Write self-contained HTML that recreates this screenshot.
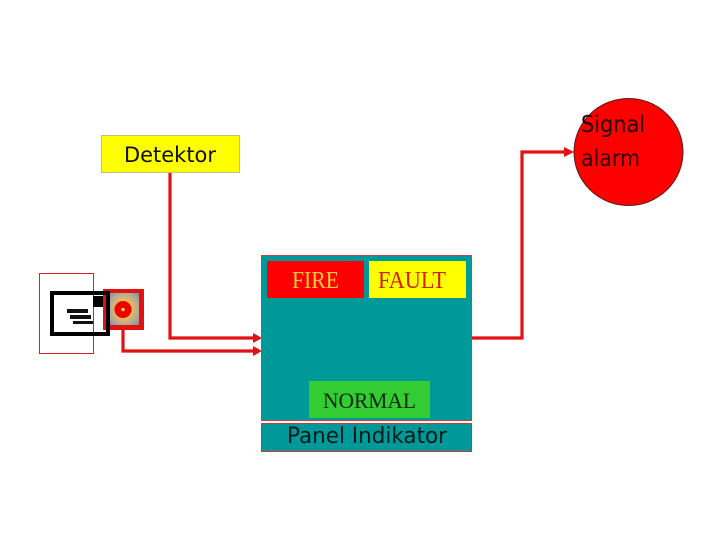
<!DOCTYPE html>
<html>
<head>
<meta charset="utf-8">
<style>
html,body{margin:0;padding:0;background:#fff;width:720px;height:540px;overflow:hidden}
svg{display:block}
.s{font-family:"DejaVu Sans","Liberation Sans",sans-serif}
.t{font-family:"Liberation Serif",serif}
</style>
</head>
<body>
<svg width="720" height="540" viewBox="0 0 720 540" xmlns="http://www.w3.org/2000/svg">
<rect x="0" y="0" width="720" height="540" fill="#fff"/>

<!-- Signal alarm -->
<ellipse cx="628.500" cy="152" rx="54.500" ry="53.500" fill="#ff0000" stroke="#5a1a1a" stroke-width="1"/>
<text class="s" x="581" y="132" font-size="23.500" fill="#200000" textLength="64" lengthAdjust="spacingAndGlyphs">Signal</text>
<text class="s" x="581" y="166" font-size="23.500" fill="#300000" textLength="59" lengthAdjust="spacingAndGlyphs">alarm</text>

<!-- Detektor -->
<rect x="101.500" y="135.500" width="138" height="37" fill="#ffff00" stroke="#c4bd84" stroke-width="1"/>
<text class="s" x="124" y="162" font-size="21" fill="#101010" textLength="92" lengthAdjust="spacingAndGlyphs">Detektor</text>

<!-- Connectors -->
<g fill="none" stroke="#e31212" stroke-width="3.200">
<polyline points="170,173 170,338 254,338"/>
<polyline points="123,329 123,351 254,351"/>
<polyline points="472,338 522,338 522,152 566,152"/>
</g>
<g fill="#e31212">
<polygon points="253,333 262,338 253,343"/>
<polygon points="253,346 262,351 253,356"/>
<polygon points="564,147 574,152 564,157"/>
</g>

<!-- Panel -->
<rect x="261.500" y="255.500" width="210" height="165" fill="#009999" stroke="#d04040" stroke-width="1"/>
<rect x="261.500" y="423.500" width="210" height="28" fill="#009999" stroke="#d83434" stroke-width="1"/>
<rect x="267" y="261" width="97" height="37" fill="#ff0000"/>
<rect x="369" y="261" width="97" height="37" fill="#ffff00"/>
<rect x="309" y="381" width="121" height="37" fill="#33cc33"/>
<text class="t" x="292" y="288" font-size="24" fill="#ffcc33" textLength="47" lengthAdjust="spacingAndGlyphs">FIRE</text>
<text class="t" x="378" y="288" font-size="24" fill="#cc2200" textLength="68" lengthAdjust="spacingAndGlyphs">FAULT</text>
<text class="t" x="323" y="408" font-size="22" fill="#0a2a0a" textLength="93" lengthAdjust="spacingAndGlyphs">NORMAL</text>
<text class="s" x="287" y="443" font-size="22" fill="#021a1a" textLength="160" lengthAdjust="spacingAndGlyphs">Panel Indikator</text>

<!-- Detector icon -->
<defs>
<radialGradient id="g" cx="50%" cy="50%" r="65%">
<stop offset="0" stop-color="#ffcc44"/>
<stop offset="0.45" stop-color="#e8b860"/>
<stop offset="0.8" stop-color="#a8a8a0"/>
<stop offset="1" stop-color="#909090"/>
</radialGradient>
</defs>
<rect x="39.500" y="273.500" width="54" height="80" fill="none" stroke="#e02020" stroke-width="1"/>
<rect x="103" y="289" width="41" height="41" fill="#e31212"/>
<rect x="109" y="293" width="30" height="32" fill="url(#g)"/>
<circle cx="123" cy="309.500" r="8.500" fill="#ee0000"/>
<circle cx="123" cy="309.500" r="1.800" fill="#ffcc44"/>
<rect x="52" y="293" width="56" height="41" fill="none" stroke="#000" stroke-width="4"/>
<rect x="93" y="296" width="10" height="11" fill="#000"/>
<rect x="67" y="309" width="21" height="4" fill="#111"/>
<rect x="70" y="315" width="21" height="4" fill="#111"/>
<rect x="73" y="321" width="20" height="3" fill="#111"/>
</svg>
</body>
</html>
